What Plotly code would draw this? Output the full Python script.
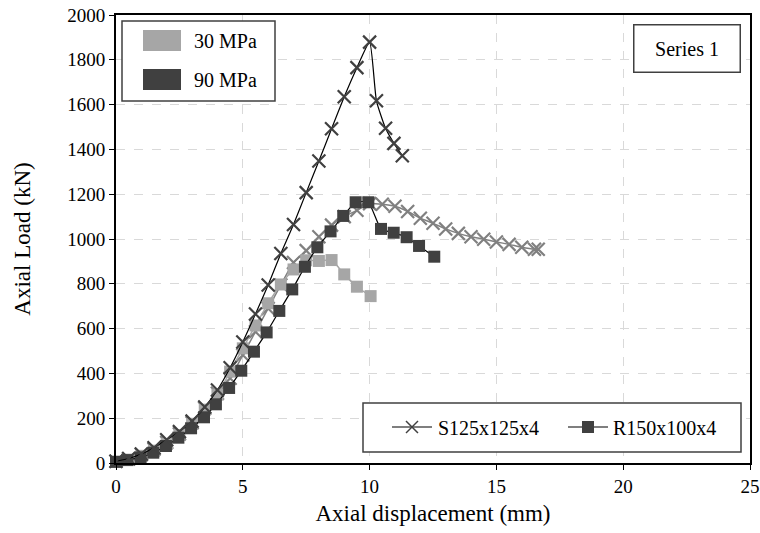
import plotly.graph_objects as go

# ---- data ----
s90_x = [0, 0.5, 1, 1.5, 2, 2.5, 3, 3.5, 4, 4.5, 5, 5.5, 6, 6.5, 7, 7.5, 8, 8.5, 9, 9.5, 10, 10.27, 10.63, 10.96, 11.29]
s90_y = [8, 20, 40, 68, 104, 140, 187, 250, 326, 425, 540, 665, 795, 935, 1065, 1207, 1348, 1492, 1635, 1765, 1879, 1617, 1494, 1427, 1372]

s30_x = [0, 0.5, 1, 1.5, 2, 2.5, 3, 3.5, 4, 4.5, 5, 5.5, 6, 6.5, 7, 7.5, 8, 8.5, 9, 9.5, 10, 10.5, 11, 11.5, 12, 12.5, 13, 13.5, 14, 14.5, 15, 15.5, 16, 16.5, 16.65]
s30_y = [8, 18, 38, 62, 92, 130, 180, 244, 311, 378, 482, 586, 690, 795, 895, 948, 1010, 1062, 1100, 1128, 1158, 1155, 1146, 1123, 1093, 1070, 1045, 1025, 1010, 999, 987, 976, 963, 954, 954]

r90_x = [0, 0.45, 0.97, 1.47, 1.97, 2.46, 2.96, 3.47, 3.94, 4.46, 4.94, 5.44, 5.94, 6.44, 6.95, 7.45, 7.94, 8.46, 8.96, 9.45, 9.95, 10.45, 10.95, 11.46, 11.95, 12.55]
r90_y = [5, 13, 25, 46, 76, 113, 155, 204, 262, 335, 412, 497, 583, 679, 775, 876, 963, 1034, 1103, 1164, 1164, 1045, 1028, 1008, 969, 921]

r30_x = [0, 0.5, 1, 1.5, 2, 2.5, 3, 3.5, 4, 4.5, 5, 5.5, 6, 6.5, 7, 7.5, 8, 8.5, 9, 9.5, 10.04]
r30_y = [6, 15, 32, 55, 85, 125, 175, 238, 305, 408, 512, 614, 713, 797, 864, 905, 902, 906, 842, 787, 745]

x_ticks = [0, 5, 10, 15, 20, 25]
y_ticks = [0, 200, 400, 600, 800, 1000, 1200, 1400, 1600, 1800, 2000]

grade_names = ["30 MPa", "90 MPa"]
section_names = ["S125x125x4", "R150x100x4"]

FONT = "Liberation Serif"
DARK = "#404040"
MID = "#808080"
LIGHT = "#a6a6a6"

W, H = 760, 533
ML, MR, MT, MB = 116, 10, 15, 70
PW, PH = W - ML - MR, H - MT - MB


def px(x):
    return (x - ML) / PW


def py(y):
    return (H - MB - y) / PH


fig = go.Figure()

fig.add_trace(go.Scatter(
    x=s30_x, y=s30_y, mode="lines+markers", showlegend=False, cliponaxis=False,
    line=dict(color=MID, width=1.5, shape="spline", smoothing=0.5),
    marker=dict(symbol="x-thin", size=13, line=dict(color=MID, width=2.2))))
fig.add_trace(go.Scatter(
    x=r30_x, y=r30_y, mode="lines+markers", showlegend=False, cliponaxis=False,
    line=dict(color=LIGHT, width=1.5, shape="spline", smoothing=0.5),
    marker=dict(symbol="square", size=12, color=LIGHT)))
fig.add_trace(go.Scatter(
    x=r90_x, y=r90_y, mode="lines+markers", showlegend=False, cliponaxis=False,
    line=dict(color="black", width=1.2, shape="spline", smoothing=0.5),
    marker=dict(symbol="square", size=12, color=DARK)))
fig.add_trace(go.Scatter(
    x=s90_x, y=s90_y, mode="lines+markers", showlegend=False, cliponaxis=False,
    line=dict(color="black", width=1.2, shape="spline", smoothing=0.5),
    marker=dict(symbol="x-thin", size=13, line=dict(color=DARK, width=2.2))))


def rect(x0, x1, y0, y1, fill, lc=None, lw=0):
    return dict(type="rect", xref="paper", yref="paper",
                x0=px(x0), x1=px(x1), y0=py(y1), y1=py(y0),
                fillcolor=fill, line=dict(color=lc or fill, width=lw), layer="above")


def seg(x0, y0, x1, y1, color, w):
    return dict(type="line", xref="paper", yref="paper",
                x0=px(x0), x1=px(x1), y0=py(y0), y1=py(y1),
                line=dict(color=color, width=w), layer="above")


shapes = [
    # grade legend box
    rect(122, 275, 21, 101, "white", DARK, 1.5),
    rect(143, 181, 30, 51, LIGHT),
    rect(143, 181, 69, 90, DARK),
    # section legend box
    rect(363, 741, 403, 452, "white", DARK, 1.5),
    seg(392, 427, 432, 427, "black", 1.2),
    seg(406, 421, 418, 433, DARK, 1.5),
    seg(406, 433, 418, 421, DARK, 1.5),
    seg(568, 427, 608, 427, "black", 1.2),
    rect(582, 594, 421, 433, DARK),
]

ann_font = dict(family=FONT, size=20, color="black")
annotations = [
    dict(text=grade_names[0], xref="paper", yref="paper", x=px(192), y=py(41), xanchor="left",
         yanchor="middle", showarrow=False, font=ann_font),
    dict(text=grade_names[1], xref="paper", yref="paper", x=px(192), y=py(80), xanchor="left",
         yanchor="middle", showarrow=False, font=ann_font),
    dict(text=section_names[0], xref="paper", yref="paper", x=px(436), y=py(428), xanchor="left",
         yanchor="middle", showarrow=False, font=ann_font),
    dict(text=section_names[1], xref="paper", yref="paper", x=px(611), y=py(428), xanchor="left",
         yanchor="middle", showarrow=False, font=ann_font),
    dict(text="Series 1", xref="paper", yref="paper", x=px(741), y=py(48), xanchor="right",
         yanchor="middle", showarrow=False, width=101, height=42, align="center",
         bgcolor="white", bordercolor=DARK, borderwidth=1.5, borderpad=2, font=ann_font),
]

fig.update_layout(
    width=W, height=H,
    margin=dict(l=ML, r=MR, t=MT, b=MB),
    paper_bgcolor="white", plot_bgcolor="white",
    font=dict(family=FONT, size=19, color="black"),
    shapes=shapes, annotations=annotations, showlegend=False,
)
fig.update_xaxes(
    range=[0, 25], tickvals=x_ticks, ticks="outside", ticklen=5, tickcolor="black",
    showline=True, linecolor="black", linewidth=1.5, mirror=True, automargin=False,
    showgrid=True, gridcolor="#d9d9d9", griddash="dash", gridwidth=1,
    zeroline=False, title=dict(text="Axial displacement (mm)", standoff=9),
    tickfont=dict(family=FONT, size=19))
fig.update_yaxes(
    range=[0, 2000], tickvals=y_ticks, ticks="outside", ticklen=5, tickcolor="black",
    showline=True, linecolor="black", linewidth=2, mirror=True, automargin=False,
    showgrid=True, gridcolor="#d9d9d9", griddash="dash", gridwidth=1,
    zeroline=False, title=dict(text="Axial Load (kN)", standoff=30),
    tickfont=dict(family=FONT, size=19))

fig.write_html("out.html")
